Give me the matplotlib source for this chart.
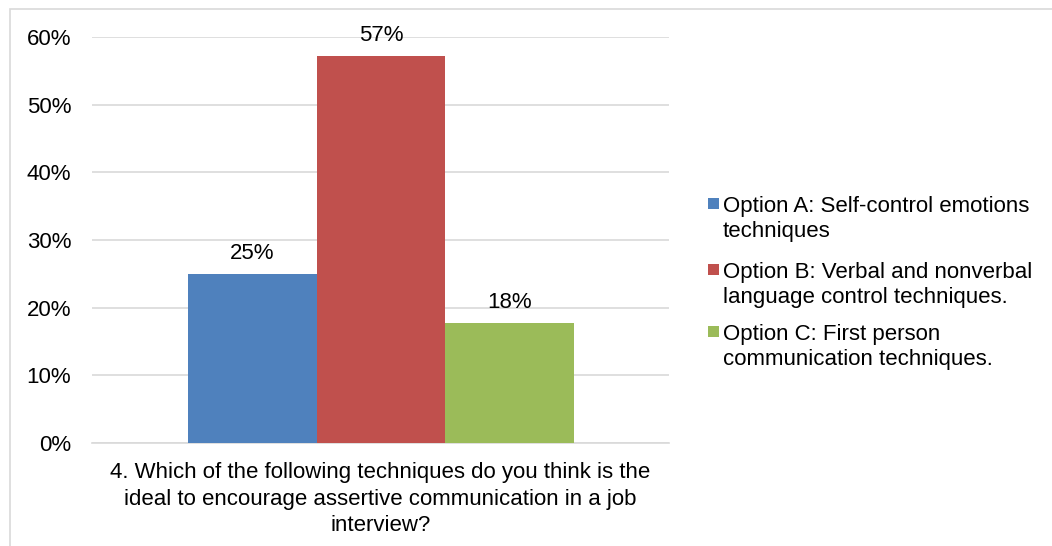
import matplotlib
matplotlib.use("Agg")
import matplotlib.pyplot as plt
from matplotlib.patches import Rectangle

plt.rcParams['font.family'] = ['Liberation Sans', 'DejaVu Sans']

category = "4. Which of the following techniques do you think is the\nideal to encourage assertive communication in a job\ninterview?"
series_names = ["Option A: Self-control emotions\ntechniques",
                "Option B: Verbal and nonverbal\nlanguage control techniques.",
                "Option C: First person\ncommunication techniques."]
values = [0.25, 0.572, 0.177]
colors = ["#4F81BD", "#C0504D", "#9BBB59"]
yticks = [0, 0.1, 0.2, 0.3, 0.4, 0.5, 0.6]

W, H = 1052, 546
FS = 16
fig = plt.figure(figsize=(W/100, H/100), dpi=100)
fig.patches.append(Rectangle((10/W, -0.1), 1.2, 1 - 9/H + 0.1, transform=fig.transFigure,
                             fill=False, edgecolor="#D9D9D9", linewidth=1.2, zorder=0))
ax = fig.add_axes([92/W, 1 - 443/H, 577/W, (443 - 37)/H])

w = 128.7/577
for i, (name, v, c) in enumerate(zip(series_names, values, colors)):
    x = (i - 1) * w + 0.5/577
    ax.bar(x, v, width=w, color=c, label=name, zorder=3)
    ax.text(x, v + 0.015, f"{round(v*100)}%", ha="center", va="bottom", fontsize=FS,
            color="#000000", zorder=4)

ax.set_xlim(-0.5, 0.5)
ax.set_ylim(0, 0.6)
ax.set_yticks(yticks)
ax.set_yticklabels([f"{round(t*100)}%" for t in yticks], fontsize=FS)
ax.set_xticks([0])
ax.set_xticklabels([category], fontsize=FS, linespacing=1.33)
ax.tick_params(axis="both", length=0)
ax.tick_params(axis="y", pad=15)
ax.tick_params(axis="x", pad=14)
ax.yaxis.grid(True, color="#D9D9D9", linewidth=1.2, zorder=0)
for s in ["top", "right", "left"]:
    ax.spines[s].set_visible(False)
ax.spines["bottom"].set_color("#D9D9D9")
ax.spines["bottom"].set_linewidth(1.2)

# legend (drawn manually so the marker sits beside the first line of each label)
row_baselines = [212, 278, 340]
line_pitch = 25
for name, c, yb in zip(series_names, colors, row_baselines):
    yc = yb - 8.5
    fig.patches.append(Rectangle((708/W, 1 - (yc + 5.5)/H), 11/W, 11/H,
                                 transform=fig.transFigure, facecolor=c, edgecolor="none"))
    nlines = name.count("\n") + 1
    fig.text(723/W, 1 - (yb + line_pitch*(nlines - 1))/H, name, ha="left", va="baseline",
             fontsize=FS, linespacing=1.26, color="#000000")

fig.savefig("out.png", dpi=100)
